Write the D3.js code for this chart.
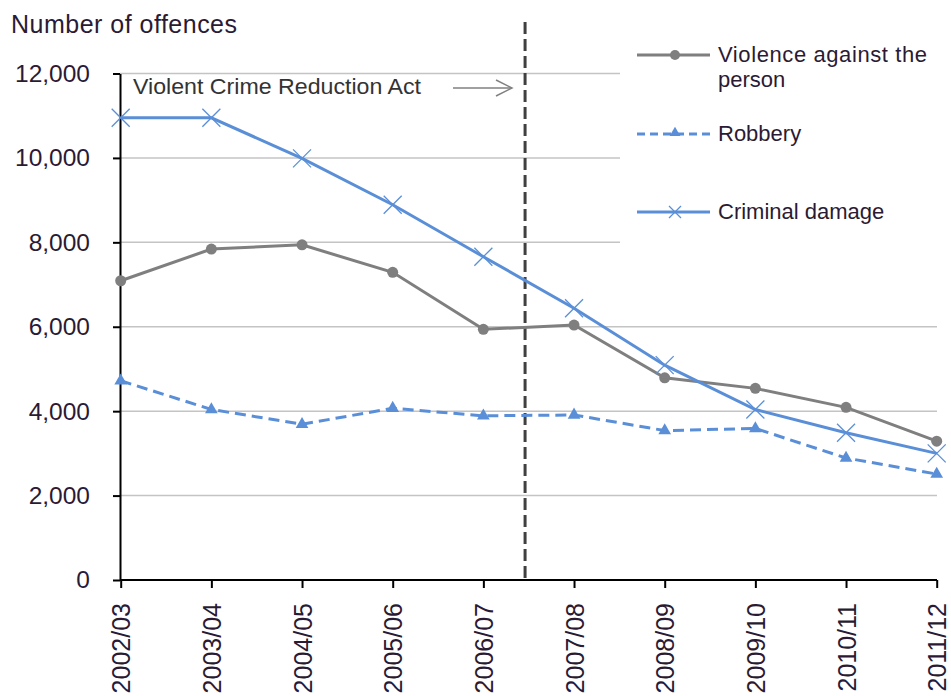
<!DOCTYPE html>
<html><head><meta charset="utf-8">
<script src="https://cdn.jsdelivr.net/npm/d3@7"></script>
<style>body{margin:0;background:#fff}svg{display:block}text{font-family:"Liberation Sans",Arial,sans-serif}</style>
</head><body><svg id="c" width="951" height="696"></svg>
<script>
const categories = ["2002/03","2003/04","2004/05","2005/06","2006/07","2007/08","2008/09","2009/10","2010/11","2011/12"];
const violence = [7090,7840,7940,7290,5940,6040,4790,4540,4090,3290];
const robbery = [4720,4040,3690,4070,3890,3910,3540,3590,2890,2510];
const criminalDamage = [10950,10950,9990,8890,7660,6440,5090,4040,3490,3000];
const yTicks = [0,2000,4000,6000,8000,10000,12000];
const seriesNames = ["Violence against the person","Robbery","Criminal damage"];

const svg = d3.select("#c");
const x = d3.scalePoint().domain(categories).range([120.7, 936.7]).padding(0);
const y = d3.scaleLinear().domain([0,12000]).range([580, 73.5]);
const fmt = d3.format(",");
const txt = "#2b1a33";

// gridlines
svg.append("g").selectAll("line").data(yTicks.filter(d=>d>0)).join("line")
  .attr("x1",120).attr("x2",937).attr("y1",d=>y(d)).attr("y2",d=>y(d))
  .attr("stroke","#c4c4c4").attr("stroke-width",1.5);

// legend background
svg.append("rect").attr("x",620).attr("y",18).attr("width",331).attr("height",270).attr("fill","#fff");

// y axis
const yAxis = svg.append("g").attr("transform","translate(120,0)")
  .call(d3.axisLeft(y).tickValues(yTicks).tickFormat(fmt).tickSize(7).tickSizeOuter(0).tickPadding(23));
yAxis.select(".domain").attr("stroke","#000").attr("stroke-width",2);
yAxis.selectAll(".tick line").attr("stroke","#000").attr("stroke-width",2);
yAxis.selectAll("text").attr("font-size",24.5).attr("fill",txt);

// x axis
const xAxis = svg.append("g").attr("transform","translate(0,580)")
  .call(d3.axisBottom(x).tickSize(8).tickSizeOuter(0));
xAxis.select(".domain").attr("stroke","#000").attr("stroke-width",2).attr("d","M120,0H937");
xAxis.selectAll(".tick line").attr("stroke","#000").attr("stroke-width",2);
xAxis.selectAll("text").attr("font-size",25).attr("fill",txt)
  .attr("transform","rotate(-90)").attr("text-anchor","end")
  .attr("x",-23).attr("y",0).attr("dy","0.36em");

// title
svg.append("text").attr("x",11).attr("y",33).attr("font-size",25).attr("fill",txt)
  .attr("textLength",226).text("Number of offences");

// vertical dashed line
const xv = x(categories[4]) + x.step()*0.46;
svg.append("line").attr("x1",xv).attr("x2",xv).attr("y1",22).attr("y2",578)
  .attr("stroke","#404040").attr("stroke-width",3).attr("stroke-dasharray","12,5");

// annotation
svg.append("text").attr("x",133).attr("y",94).attr("font-family","Lato, 'Open Sans', sans-serif")
  .attr("font-size",21.5).attr("fill","#333").attr("textLength",288).attr("lengthAdjust","spacingAndGlyphs")
  .text("Violent Crime Reduction  Act");
svg.append("line").attr("x1",453).attr("x2",512).attr("y1",88).attr("y2",88).attr("stroke","#808080").attr("stroke-width",1.5);
svg.append("path").attr("d","M496,80L512,88L496,96").attr("fill","none").attr("stroke","#808080").attr("stroke-width",1.5);

const gray = "#7f7f7f", blue = "#5a8fd8";
const line = d3.line().x((d,i)=>x(categories[i])).y(d=>y(d));

// robbery
svg.append("path").datum(robbery).attr("d",line).attr("fill","none").attr("stroke",blue)
  .attr("stroke-width",3).attr("stroke-dasharray","11,6");
const tri = d3.symbol().type(d3.symbolTriangle).size(70);
svg.append("g").selectAll("path").data(robbery).join("path")
  .attr("transform",(d,i)=>`translate(${x(categories[i])},${y(d)})`).attr("d",tri).attr("fill",blue);

// violence
svg.append("path").datum(violence).attr("d",line).attr("fill","none").attr("stroke",gray).attr("stroke-width",3);
svg.append("g").selectAll("circle").data(violence).join("circle")
  .attr("cx",(d,i)=>x(categories[i])).attr("cy",d=>y(d)).attr("r",5.5).attr("fill",gray);

// criminal damage
svg.append("path").datum(criminalDamage).attr("d",line).attr("fill","none").attr("stroke",blue).attr("stroke-width",3);
svg.append("g").selectAll("path").data(criminalDamage).join("path")
  .attr("transform",(d,i)=>`translate(${x(categories[i])},${y(d)})`)
  .attr("d","M-9,-9L9,9M-9,9L9,-9").attr("stroke",blue).attr("stroke-width",1.3).attr("fill","none");

// legend
const lg = svg.append("g");
const lx1 = 637, lx2 = 710, lm = 675, tx = 718, fs = 22;
lg.append("line").attr("x1",lx1).attr("x2",lx2).attr("y1",55).attr("y2",55).attr("stroke",gray).attr("stroke-width",3);
lg.append("circle").attr("cx",lm).attr("cy",55).attr("r",5).attr("fill",gray);
lg.append("text").attr("x",tx).attr("y",62).attr("font-size",fs).attr("fill",txt).attr("textLength",209).text("Violence against the");
lg.append("text").attr("x",tx).attr("y",87).attr("font-size",fs).attr("fill",txt).text("person");
lg.append("line").attr("x1",lx1).attr("x2",lx2).attr("y1",134).attr("y2",134).attr("stroke",blue).attr("stroke-width",3).attr("stroke-dasharray","8,5");
lg.append("path").attr("transform",`translate(${lm},133)`).attr("d",d3.symbol().type(d3.symbolTriangle).size(50)).attr("fill",blue);
lg.append("text").attr("x",tx).attr("y",141).attr("font-size",fs).attr("fill",txt).text(seriesNames[1]);
lg.append("line").attr("x1",lx1).attr("x2",lx2).attr("y1",212).attr("y2",212).attr("stroke",blue).attr("stroke-width",3);
lg.append("path").attr("transform",`translate(${lm},212)`).attr("d","M-6,-6L6,6M-6,6L6,-6").attr("stroke",blue).attr("stroke-width",1.3);
lg.append("text").attr("x",tx).attr("y",219).attr("font-size",fs).attr("fill",txt).text(seriesNames[2]);
</script></body></html>
